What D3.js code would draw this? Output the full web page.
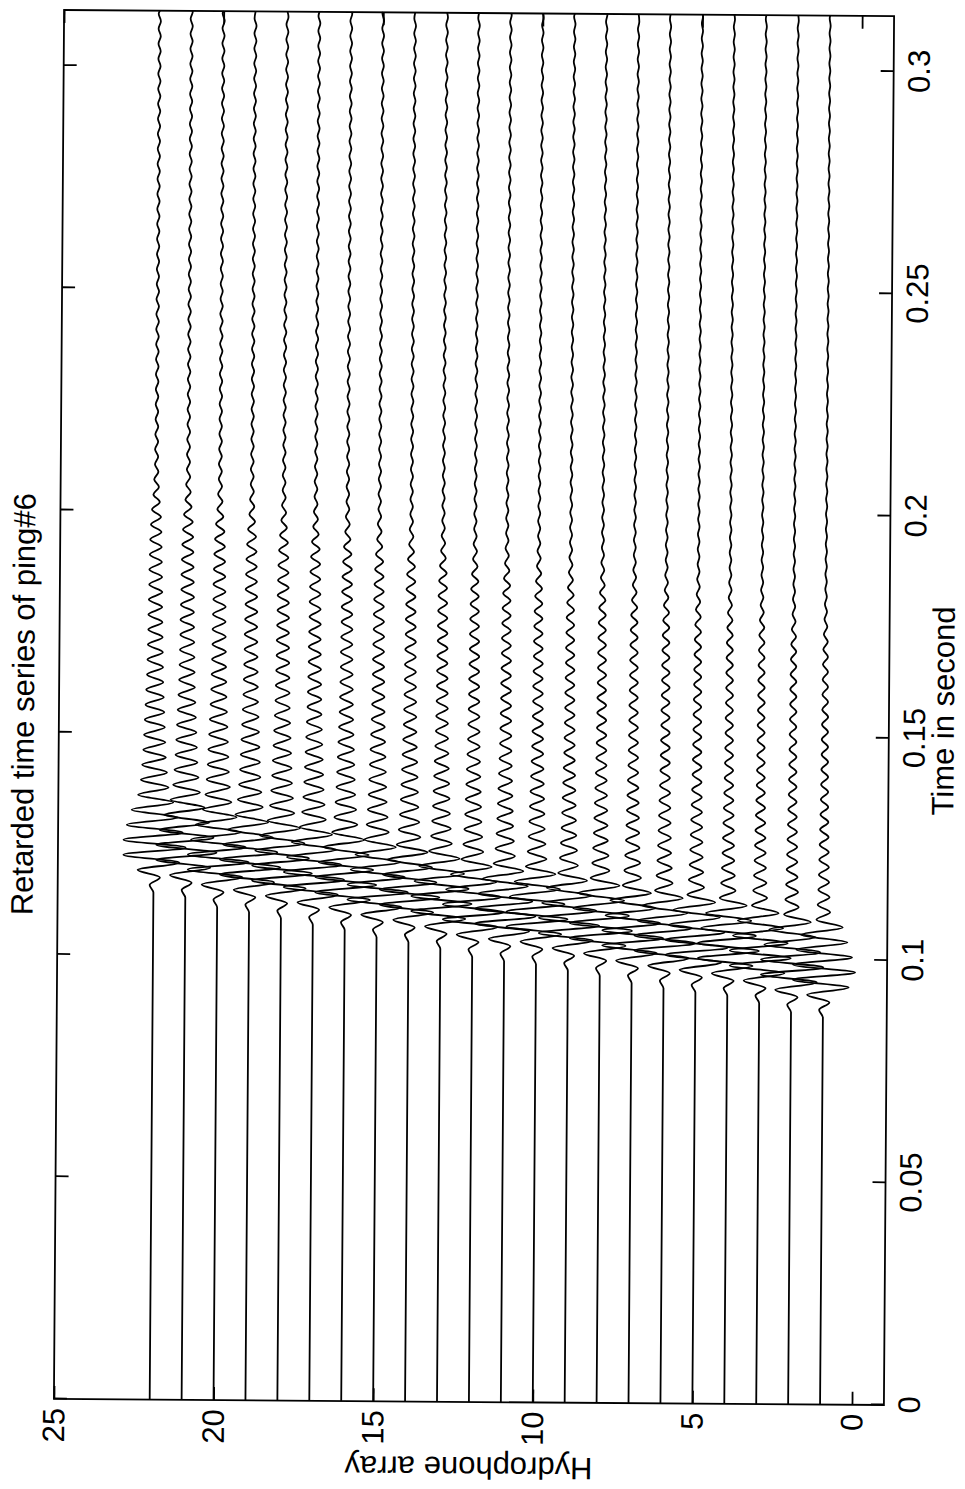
<!DOCTYPE html>
<html>
<head>
<meta charset="utf-8">
<script src="https://cdn.jsdelivr.net/npm/d3@7"></script>
<style>
  html, body { margin: 0; padding: 0; background: #fff; }
  svg { display: block; }
  text { font-family: "Liberation Sans", Arial, Helvetica, sans-serif; fill: #000; }
</style>
</head>
<body>
<script>
// Hydrophone channels and the arrival time (s) of the first wiggle on each
const hydrophones = [1, 2, 3, 4, 5, 6, 7, 8, 9, 10, 11, 12, 13, 14, 15, 16, 17, 18, 19, 20, 21, 22];
const arrivals = [0.0871, 0.0882, 0.0902, 0.0918, 0.0925, 0.0934, 0.0945, 0.0961, 0.0972, 0.0986, 0.0992,
                  0.1001, 0.1019, 0.1033, 0.1044, 0.1060, 0.1071, 0.1085, 0.1098, 0.1109, 0.1130, 0.1141];
// Gain of the main burst and of the ringing tail, per channel
const burstGain = [1.0, 1.0, 0.98, 0.98, 1.0, 0.97, 0.98, 1.0, 0.97, 0.98, 0.97,
                   0.98, 0.97, 0.96, 0.97, 0.98, 0.97, 0.96, 0.97, 0.98, 0.97, 1.0];
const tailGain = [0.45, 0.48, 0.5, 0.52, 0.55, 0.58, 0.6, 0.62, 0.65, 0.68, 0.7,
                  0.72, 0.75, 0.78, 0.8, 0.83, 0.86, 0.88, 0.9, 0.94, 0.97, 1.0];
// Half-cycle spacing of the ringing (s)
const halfCycle = 0.00169;
// Peak size of successive half-cycles after arrival (hydrophone spacing units)
const envelope = [
  0.12, 0.2, 0.5, 0.8, 0.95, 1.0, 0.95, 0.9, 0.85, 0.75,
  0.7, 0.6, 0.5, 0.45, 0.42, 0.4, 0.38, 0.36, 0.35, 0.34,
  0.33, 0.32, 0.31, 0.3, 0.29, 0.28, 0.27, 0.26, 0.25, 0.25,
  0.24, 0.24, 0.23, 0.23, 0.22, 0.22, 0.22, 0.21, 0.21, 0.21,
  0.2, 0.2, 0.2, 0.19, 0.19, 0.18, 0.18, 0.17, 0.16, 0.15,
  0.13, 0.11, 0.09, 0.08, 0.07, 0.06, 0.05, 0.05, 0.05, 0.045,
  0.045, 0.045, 0.04, 0.04, 0.04, 0.04, 0.04, 0.04, 0.04, 0.04,
  0.04, 0.04, 0.04, 0.04, 0.04, 0.04, 0.04, 0.04, 0.04, 0.04,
  0.035, 0.035, 0.035, 0.035, 0.035, 0.035, 0.035, 0.035, 0.035, 0.035,
  0.035, 0.035, 0.035, 0.035, 0.035, 0.035, 0.035, 0.035, 0.035, 0.035,
  0.035, 0.035, 0.035, 0.035, 0.035, 0.035, 0.035, 0.035, 0.035, 0.035,
  0.035, 0.035, 0.035, 0.035, 0.035, 0.035, 0.035, 0.035, 0.035, 0.035,
  0.035, 0.035, 0.035, 0.035, 0.035, 0.035, 0.035, 0.035, 0.035, 0.035,
  0.035, 0.035, 0.035, 0.035, 0.035
];
const burstLength = 12;

const timeDomain = [0, 0.3125];
const hydroDomain = [-1, 25];
const timeTicks = [0, 0.05, 0.1, 0.15, 0.2, 0.25, 0.3];
const timeTickLabels = ["0", "0.05", "0.1", "0.15", "0.2", "0.25", "0.3"];
const hydroTicks = [0, 5, 10, 15, 20, 25];
const hydroTickLabels = ["0", "5", "10", "15", "20", "25"];
const titleText = "Retarded time series of ping#6";
const xLabelText = "Time in second";
const yLabelText = "Hydrophone array";

// Page layout: the figure is printed sideways (landscape rotated a quarter turn)
const pageW = 965, pageH = 1489;
const W = 1389, H = 830;           // plot box in landscape coordinates
const originX = 59, originY = 1402; // page position of the landscape top-left corner
const tilt = 0.42;                  // slight skew of the printed sheet
const fontSize = 31;

const svg = d3.select("body").append("svg")
  .attr("width", pageW).attr("height", pageH);

const sheet = svg.append("g")
  .attr("transform", `rotate(${tilt}, ${(originX + originX + H) / 2}, ${(originY + originY - W) / 2})`);

const g = sheet.append("g")
  .attr("transform", `translate(${originX},${originY}) rotate(-90)`);

const x = d3.scaleLinear().domain(timeDomain).range([0, W]);
const y = d3.scaleLinear().domain(hydroDomain).range([H, 0]);

// Traces
const line = d3.line()
  .x(d => x(d[0]))
  .y(d => y(d[1]))
  .curve(d3.curveMonotoneX);

const traces = hydrophones.map((h, i) => {
  const t0 = arrivals[i];
  const pts = [[timeDomain[0], h], [t0, h]];
  for (let k = 0; k < envelope.length; k++) {
    const t = t0 + (k + 1) * halfCycle;
    if (t >= timeDomain[1]) break;
    const gain = k < burstLength ? burstGain[i] : tailGain[i];
    const sign = k % 2 === 0 ? 1 : -1;
    pts.push([t, h + sign * envelope[k] * gain]);
  }
  pts.push([timeDomain[1], h]);
  return pts;
});

g.append("g").selectAll("path")
  .data(traces)
  .join("path")
  .attr("d", line)
  .attr("fill", "none")
  .attr("stroke", "#000")
  .attr("stroke-width", 1.8)
  .attr("stroke-linejoin", "round");

// Axes with inward ticks on all four sides
const tickLen = 13;
function styleAxis(sel) {
  sel.select(".domain").remove();
  sel.selectAll(".tick line").attr("stroke", "#000").attr("stroke-width", 1.8);
  sel.selectAll(".tick text").attr("font-size", fontSize).attr("fill", "#000");
}

g.append("g")
  .attr("transform", `translate(0,${H})`)
  .call(d3.axisBottom(x).tickValues(timeTicks)
    .tickFormat((d, i) => timeTickLabels[i])
    .tickSizeInner(-tickLen).tickSizeOuter(0).tickPadding(14))
  .call(styleAxis);

g.append("g")
  .call(d3.axisTop(x).tickValues(timeTicks).tickFormat("")
    .tickSizeInner(-tickLen).tickSizeOuter(0))
  .call(styleAxis);

g.append("g")
  .call(d3.axisLeft(y).tickValues(hydroTicks)
    .tickFormat((d, i) => hydroTickLabels[i])
    .tickSizeInner(-tickLen).tickSizeOuter(0).tickPadding(9))
  .call(styleAxis);

g.append("g")
  .attr("transform", `translate(${W},0)`)
  .call(d3.axisRight(y).tickValues(hydroTicks).tickFormat("")
    .tickSizeInner(-tickLen).tickSizeOuter(0))
  .call(styleAxis);

// Plot box
g.append("rect")
  .attr("x", 0).attr("y", 0).attr("width", W).attr("height", H)
  .attr("fill", "none").attr("stroke", "#000").attr("stroke-width", 1.8);

// Title and axis labels
g.append("text")
  .attr("x", W / 2).attr("y", -25)
  .attr("text-anchor", "middle")
  .attr("font-size", fontSize)
  .text(titleText);

g.append("text")
  .attr("x", W / 2).attr("y", H + 65)
  .attr("text-anchor", "middle")
  .attr("font-size", fontSize)
  .text(xLabelText);

g.append("text")
  .attr("transform", `translate(-55,${H / 2}) rotate(-90)`)
  .attr("text-anchor", "middle")
  .attr("font-size", fontSize)
  .text(yLabelText);
</script>
</body>
</html>
